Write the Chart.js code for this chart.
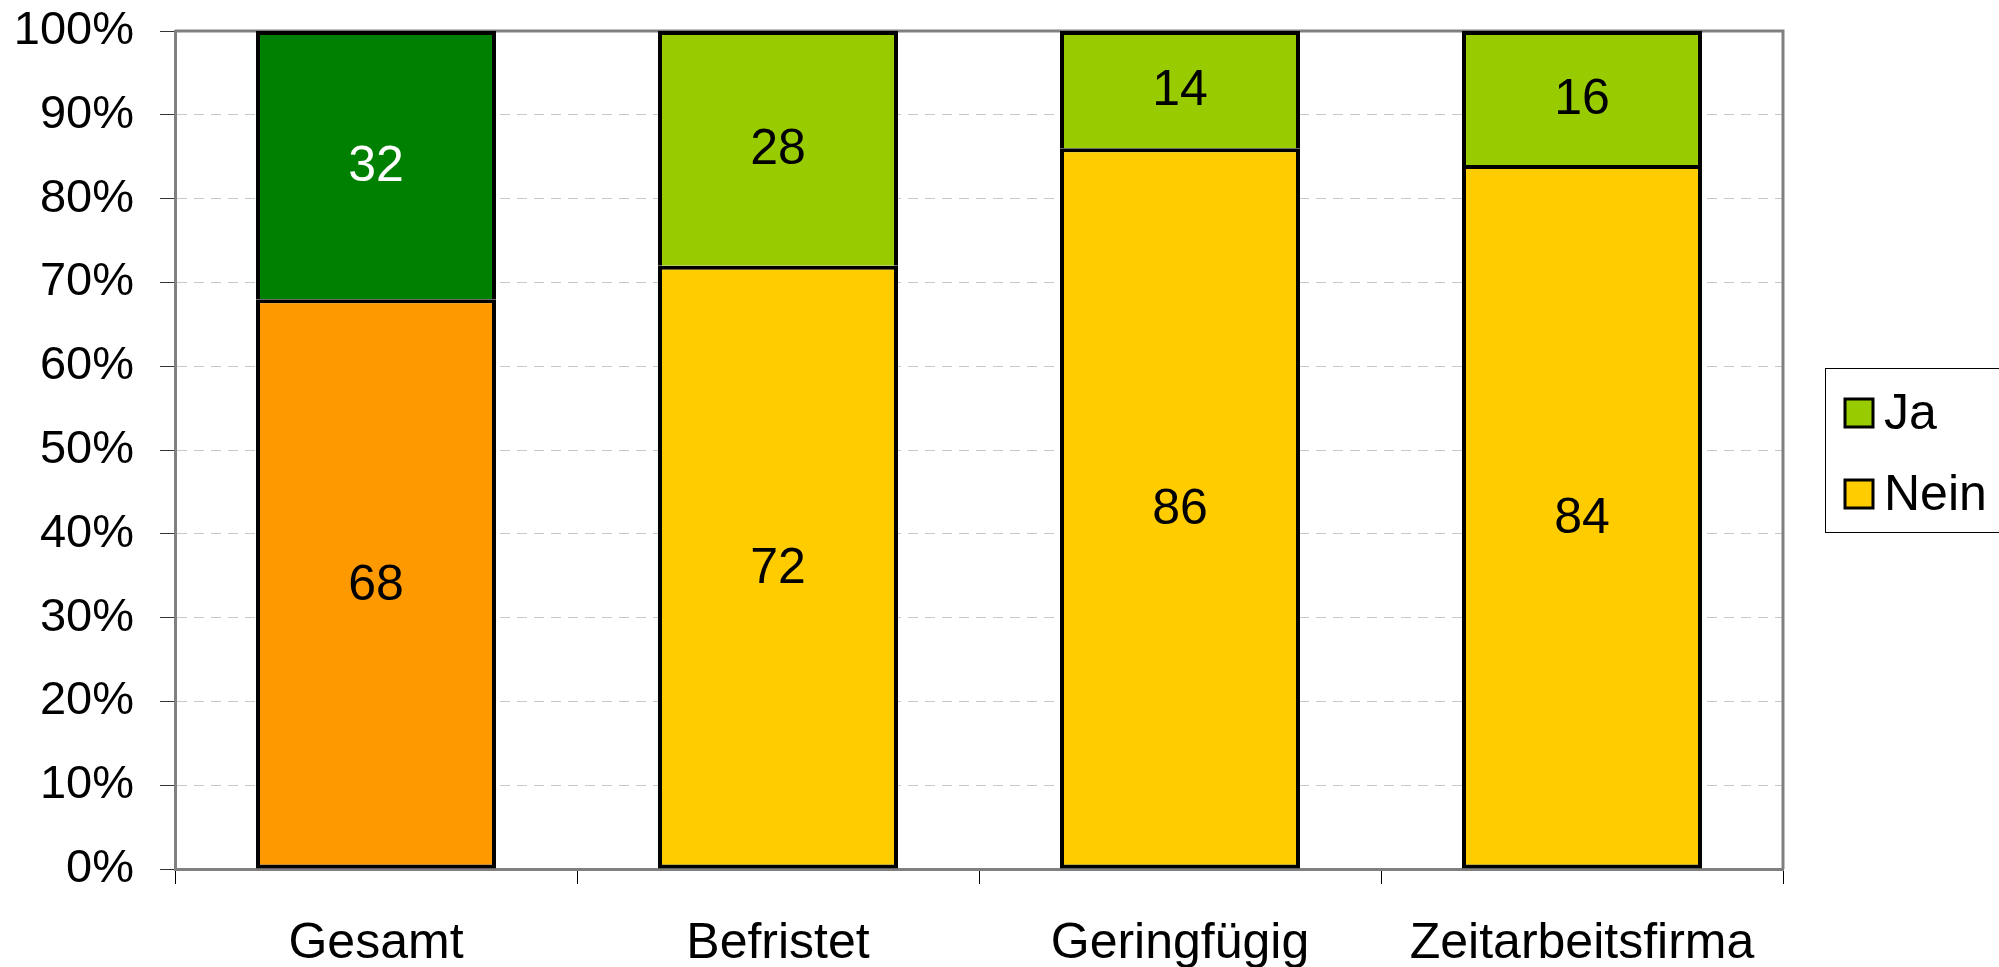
<!DOCTYPE html>
<html>
<head>
    <meta charset="utf-8">
    <title>Ja / Nein nach Beschäftigungsform</title>
    <script src="https://cdn.jsdelivr.net/npm/chart.js"></script>
    <style>
        html, body { margin: 0; padding: 0; background: #fff; }
        #wrap { width: 1999px; height: 967px; }
    </style>
</head>
<body>
    <div id="wrap"><canvas id="jaNeinChart" width="1999" height="967"></canvas></div>
    <script>
        // Werte
        const categories = ['Gesamt', 'Befristet', 'Geringfügig', 'Zeitarbeitsfirma'];
        const neinValues = [68, 72, 86, 84];
        const jaValues = [32, 28, 14, 16];
        const seriesNames = ['Nein', 'Ja'];

        // Farben (Gesamt hebt sich ab)
        const neinColors = ['#FF9900', '#FFCC00', '#FFCC00', '#FFCC00'];
        const jaColors = ['#008000', '#99CC00', '#99CC00', '#99CC00'];
        const jaLabelColors = ['#ffffff', '#000000', '#000000', '#000000'];

        const FONT = '"Liberation Sans", Arial, sans-serif';

        // Wert in die Mitte jedes Balkens schreiben
        const valueLabels = {
            id: 'valueLabels',
            afterDatasetsDraw(chart) {
                const ctx = chart.ctx;
                ctx.save();
                ctx.font = '50px ' + FONT;
                ctx.textAlign = 'center';
                ctx.textBaseline = 'middle';
                chart.data.datasets.forEach((ds, i) => {
                    const meta = chart.getDatasetMeta(i);
                    meta.data.forEach((bar, j) => {
                        ctx.fillStyle = ds.labelColors ? ds.labelColors[j] : '#000';
                        ctx.fillText(ds.data[j], bar.x, (bar.y + bar.base) / 2 + 2);
                    });
                });
                ctx.restore();
            }
        };

        // grauer Rahmen oben und rechts
        const plotFrame = {
            id: 'plotFrame',
            beforeDatasetsDraw(chart) {
                const { ctx, chartArea: a } = chart;
                ctx.save();
                ctx.strokeStyle = '#808080';
                ctx.lineWidth = 3;
                ctx.beginPath();
                ctx.moveTo(a.left, a.top);
                ctx.lineTo(a.right, a.top);
                ctx.lineTo(a.right, a.bottom);
                ctx.stroke();
                ctx.restore();
            }
        };

        // Legende mit Kasten rechts
        const boxLegend = {
            id: 'boxLegend',
            afterDraw(chart) {
                const ctx = chart.ctx;
                ctx.save();
                ctx.strokeStyle = '#000';
                ctx.lineWidth = 1;
                ctx.strokeRect(1825.5, 368.5, 200, 164);
                const items = [
                    { text: 'Ja', color: '#99CC00', y: 413 },
                    { text: 'Nein', color: '#FFCC00', y: 494 }
                ];
                ctx.font = '50px ' + FONT;
                ctx.textBaseline = 'middle';
                ctx.textAlign = 'left';
                items.forEach(it => {
                    ctx.fillStyle = it.color;
                    ctx.fillRect(1845, it.y - 14, 28, 28);
                    ctx.lineWidth = 3;
                    ctx.strokeRect(1845, it.y - 14, 28, 28);
                    ctx.fillStyle = '#000';
                    ctx.fillText(it.text, 1884, it.y + 2);
                });
                ctx.restore();
            }
        };

        const ctx = document.getElementById('jaNeinChart').getContext('2d');
        new Chart(ctx, {
            type: 'bar',
            data: {
                labels: categories,
                datasets: [
                    {
                        label: seriesNames[0],
                        data: neinValues,
                        backgroundColor: neinColors,
                        borderColor: '#000',
                        borderWidth: 4,
                        borderSkipped: false
                    },
                    {
                        label: seriesNames[1],
                        data: jaValues,
                        backgroundColor: jaColors,
                        labelColors: jaLabelColors,
                        borderColor: '#000',
                        borderWidth: { top: 4, left: 4, right: 4, bottom: 0 },
                        borderSkipped: false
                    }
                ]
            },
            options: {
                responsive: false,
                animation: false,
                layout: { padding: { top: 31, right: 216, left: 0, bottom: 0 } },
                datasets: {
                    bar: { barPercentage: 0.597, categoryPercentage: 1 }
                },
                scales: {
                    x: {
                        stacked: true,
                        grid: {
                            offset: true,
                            drawOnChartArea: false,
                            color: '#000',
                            tickLength: 15
                        },
                        border: { color: '#808080', width: 3 },
                        ticks: {
                            color: '#000',
                            font: { family: FONT, size: 50 },
                            padding: 30,
                            maxRotation: 0,
                            autoSkip: false
                        },
                        afterFit(scale) {
                            scale.height = 98;
                            scale.paddingLeft = 0;
                            scale.paddingRight = 0;
                        }
                    },
                    y: {
                        stacked: true,
                        min: 0,
                        max: 100,
                        grid: {
                            color: '#c8c8c8',
                            tickColor: '#333',
                            tickLength: 15,
                            tickBorderDash: []
                        },
                        border: { color: '#808080', width: 3, dash: [10, 7] },
                        ticks: {
                            stepSize: 10,
                            color: '#000',
                            font: { family: FONT, size: 47 },
                            padding: 26,
                            callback: v => v + '%'
                        },
                        afterFit(scale) {
                            scale.width = 175;
                            scale.paddingTop = 0;
                            scale.paddingBottom = 0;
                        }
                    }
                },
                plugins: {
                    legend: { display: false },
                    tooltip: { enabled: false }
                }
            },
            plugins: [plotFrame, valueLabels, boxLegend]
        });
    </script>
</body>
</html>
